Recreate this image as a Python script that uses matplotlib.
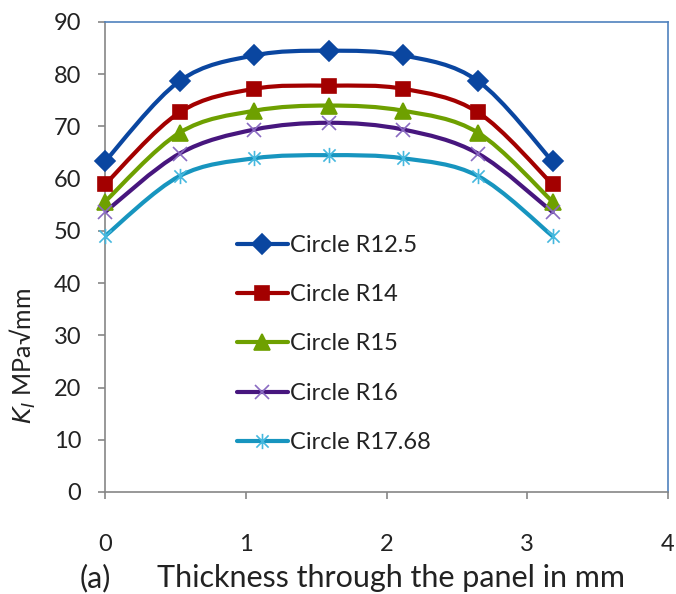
import matplotlib
matplotlib.use('Agg')
import matplotlib.pyplot as plt
from matplotlib.path import Path
from matplotlib.patches import PathPatch
from matplotlib.lines import Line2D
import numpy as np

plt.rcParams['font.family'] = ['Lato', 'DejaVu Sans']

# thickness positions through the panel, mm
thickness = [0, 0.53, 1.06, 1.59, 2.12, 2.65, 3.18]

# stress intensity factor K_I for each circle radius
k_r125 = [63.3, 78.7, 83.6, 84.5, 83.6, 78.7, 63.3]
k_r14 = [58.9, 72.7, 77.2, 77.8, 77.2, 72.7, 58.9]
k_r15 = [55.6, 68.8, 73.0, 74.0, 73.0, 68.8, 55.6]
k_r16 = [53.6, 64.8, 69.4, 70.7, 69.4, 64.8, 53.6]
k_r1768 = [49.0, 60.5, 63.9, 64.5, 63.9, 60.5, 49.0]

labels = ['Circle R12.5', 'Circle R14', 'Circle R15', 'Circle R16', 'Circle R17.68']

# asterisk marker: vertical bar plus an X
asterisk = Path([(0, -1), (0, 1), (-0.8, -0.8), (0.8, 0.8), (-0.8, 0.8), (0.8, -0.8)],
                [Path.MOVETO, Path.LINETO] * 3)

styles = [
    dict(color='#0A46A0', marker='D', mfc='#0A46A0', mec='#0A46A0', ms=10),
    dict(color='#A30000', marker='s', mfc='#A30000', mec='#A30000', ms=10),
    dict(color='#6EA000', marker='^', mfc='#6EA000', mec='#6EA000', ms=12),
    dict(color='#47167E', marker='x', mfc='none', mec='#8A6BC2', ms=10),
    dict(color='#1795BF', marker=asterisk, mfc='none', mec='#45B8DE', ms=11),
]


def smooth_path(x, y):
    # cubic bezier through the points, Excel-style smoothing
    pts = np.column_stack([x, y])
    n = len(pts)
    verts = [pts[0]]
    codes = [Path.MOVETO]
    for i in range(n - 1):
        p0 = pts[max(i - 1, 0)]
        p1 = pts[i]
        p2 = pts[i + 1]
        p3 = pts[min(i + 2, n - 1)]
        c1 = p1 + (p2 - p0) / 6
        c2 = p2 - (p3 - p1) / 6
        verts += [c1, c2, p2]
        codes += [Path.CURVE4] * 3
    return Path(verts, codes)


fig = plt.figure(figsize=(6.76, 5.94), dpi=100)
ax = fig.add_axes([105 / 676, 1 - 492 / 594, 563 / 676, 470 / 594])

series = [k_r125, k_r14, k_r15, k_r16, k_r1768]
handles = []
for vals, st, lab in zip(series, styles, labels):
    ax.add_patch(PathPatch(smooth_path(thickness, vals), facecolor='none',
                           edgecolor=st['color'], lw=3, zorder=2, capstyle='round'))
    ax.plot(thickness, vals, linestyle='none', marker=st['marker'], ms=st['ms'],
            mfc=st['mfc'], mec=st['mec'], mew=1.2, zorder=3, clip_on=False)
    handles.append(Line2D([], [], color=st['color'], lw=3, marker=st['marker'],
                          ms=st['ms'], mfc=st['mfc'], mec=st['mec'], mew=1.2,
                          solid_capstyle='round'))

ax.set_xlim(0, 4)
ax.set_ylim(0, 90)
ax.set_xticks([0, 1, 2, 3, 4])
ax.set_yticks(np.arange(0, 91, 10))

for side in ['left', 'bottom']:
    ax.spines[side].set_color('#868686')
    ax.spines[side].set_linewidth(1.2)
for side in ['top', 'right']:
    ax.spines[side].set_color('#4F81BD')
    ax.spines[side].set_linewidth(1.2)

ax.tick_params(axis='both', direction='out', length=5, width=1.2, color='#868686',
               labelsize=17, labelcolor='#222222')
ax.tick_params(axis='x', pad=25)
ax.tick_params(axis='y', pad=12)

leg = ax.legend(handles, labels, loc='upper left', bbox_to_anchor=(225 / 676, 1 - 223 / 594),
                bbox_transform=fig.transFigure, frameon=False, fontsize=17,
                handlelength=2.15, handletextpad=0.1, labelspacing=1.2, borderpad=0)
for t in leg.get_texts():
    t.set_color('#222222')

fig.text(23 / 676, 1 - 356 / 594, r'$K_I$ MPa√mm', rotation=90, ha='center', va='center',
         fontsize=18, color='#222222')
fig.text(80 / 676, 1 - 578 / 594, '(a)', ha='left', va='center', fontsize=22, color='#222222')
fig.text(157 / 676, 1 - 578 / 594, 'Thickness through the panel in mm', ha='left', va='center',
         fontsize=22, color='#222222')

fig.savefig('out.png', dpi=100)
